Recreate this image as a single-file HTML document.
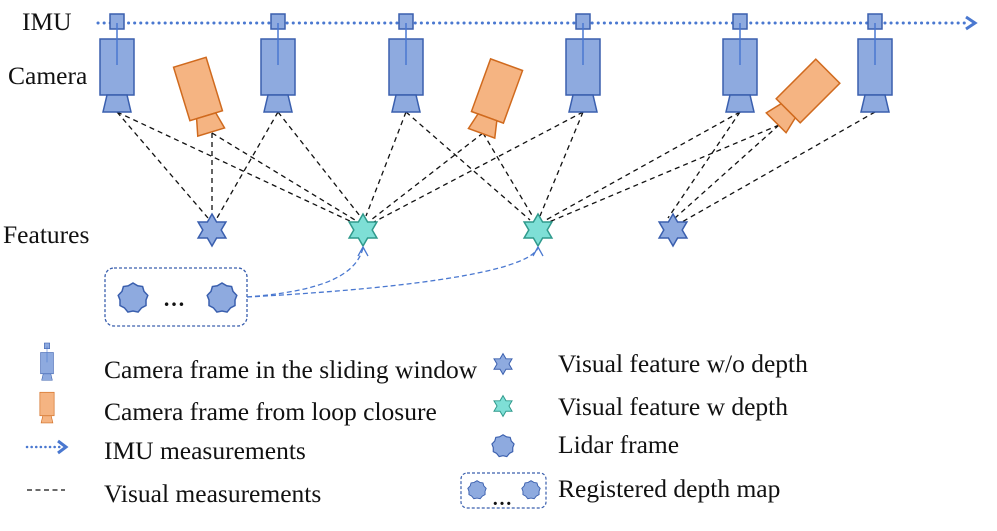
<!DOCTYPE html>
<html><head><meta charset="utf-8"><style>
html,body{margin:0;padding:0;background:#fff;}
svg{display:block;}
text{font-family:"Liberation Serif",serif;font-size:25.5px;fill:#111;}
</style></head><body>
<svg width="997" height="531" viewBox="0 0 997 531" xmlns="http://www.w3.org/2000/svg">
<defs>
  <g id="bcam">
    <rect x="-17" y="0" width="34" height="56" fill="#8eaadf" stroke="#3a5fae" stroke-width="1.5"/>
    <path d="M-10,56 L10,56 L14,73 L-14,73 Z" fill="#8eaadf" stroke="#3a5fae" stroke-width="1.5"/>
    <rect x="-7" y="-25" width="14" height="15" fill="#8eaadf" stroke="#3a5fae" stroke-width="1.5"/>
    <line x1="0" y1="-16" x2="0" y2="26" stroke="#4a78d0" stroke-width="1.5"/>
  </g>
  <g id="ocam">
    <rect x="-17" y="-28" width="34" height="56" fill="#f5b482" stroke="#d06a1e" stroke-width="1.5"/>
    <path d="M-10,28 L10,28 L14,45 L-14,45 Z" fill="#f5b482" stroke="#d06a1e" stroke-width="1.5"/>
  </g>
  <polygon id="bstar" points="0,-16 4.6,-8 13.9,-8 9.2,0 13.9,8 4.6,8 0,16 -4.6,8 -13.9,8 -9.2,0 -13.9,-8 -4.6,-8" fill="#8eaadf" stroke="#3a5fae" stroke-width="1.5"/>
  <polygon id="tstar" points="0,-16 4.6,-8 13.9,-8 9.2,0 13.9,8 4.6,8 0,16 -4.6,8 -13.9,8 -9.2,0 -13.9,-8 -4.6,-8" fill="#7edfd6" stroke="#2f9a8c" stroke-width="1.5"/>
  <polygon id="lidar" points="0,-15 4.7,-12.2 9.6,-11.5 11,-6.6 14.8,-2.6 13,2 13,7.5 8.6,9.8 5.1,14.1 0,13 -5.1,14.1 -8.6,9.8 -13,7.5 -13,2 -14.8,-2.6 -11,-6.6 -9.6,-11.5 -4.7,-12.2" fill="#8eaadf" stroke="#3a5fae" stroke-width="1.5"/>
</defs>

<text x="22" y="30">IMU</text>
<text x="8" y="84">Camera</text>
<text x="3" y="243">Features</text>

<line x1="98" y1="23" x2="970" y2="23" stroke="#4a78d0" stroke-width="3" stroke-dasharray="0.1 6" stroke-linecap="round"/>
<path d="M966,17 L975,23 L966,29" fill="none" stroke="#4a78d0" stroke-width="3"/>

<g stroke="#111" stroke-width="1.3" stroke-dasharray="5 4" fill="none">
  <line x1="117" y1="112" x2="208" y2="218"/>
  <line x1="212" y1="133" x2="212" y2="216"/>
  <line x1="278" y1="112" x2="217" y2="218"/>
  <line x1="117" y1="112" x2="352" y2="222"/>
  <line x1="212" y1="133" x2="355" y2="220"/>
  <line x1="278" y1="112" x2="360" y2="216"/>
  <line x1="406" y1="112" x2="366" y2="216"/>
  <line x1="483" y1="133" x2="371" y2="220"/>
  <line x1="583" y1="112" x2="374" y2="222"/>
  <line x1="406" y1="112" x2="530" y2="220"/>
  <line x1="483" y1="133" x2="533" y2="217"/>
  <line x1="583" y1="112" x2="540" y2="216"/>
  <line x1="740" y1="112" x2="546" y2="220"/>
  <line x1="779" y1="125" x2="549" y2="222"/>
  <line x1="740" y1="112" x2="668" y2="218"/>
  <line x1="779" y1="125" x2="675" y2="218"/>
  <line x1="875" y1="112" x2="682" y2="222"/>
</g>

<use href="#bcam" x="117" y="39"/>
<use href="#bcam" x="278" y="39"/>
<use href="#bcam" x="406" y="39"/>
<use href="#bcam" x="583" y="39"/>
<use href="#bcam" x="740" y="39"/>
<use href="#bcam" x="875" y="39"/>
<g transform="translate(198,89) rotate(-17)"><use href="#ocam"/></g>
<g transform="translate(497,91) rotate(20)"><use href="#ocam"/></g>
<g transform="translate(808,91) rotate(45)"><use href="#ocam"/></g>

<use href="#bstar" x="212" y="230"/>
<use href="#tstar" x="363" y="230"/>
<use href="#tstar" x="538" y="230"/>
<use href="#bstar" x="673" y="230"/>

<rect x="105" y="268" width="142" height="58" rx="9" fill="none" stroke="#3a5fae" stroke-width="1.3" stroke-dasharray="3 2"/>
<use href="#lidar" x="133" y="298"/>
<use href="#lidar" x="222" y="298"/>
<text x="163" y="306" style="font-weight:bold;font-size:22px">…</text>
<g stroke="#4a78d0" stroke-width="1.3" fill="none">
  <path d="M247,297 C310,292 355,280 363,248" stroke-dasharray="5 3"/>
  <path d="M247,297 C380,290 525,275 538,248" stroke-dasharray="5 3"/>
  <path d="M358,256 L363,247 L368,256"/>
  <path d="M533,256 L538,247 L543,256"/>
</g>

<g transform="translate(47,352.5) scale(0.38)"><use href="#bcam"/></g>
<g transform="translate(47,404) scale(0.42)"><use href="#ocam"/></g>
<line x1="27" y1="447" x2="60" y2="447" stroke="#4a78d0" stroke-width="2.5" stroke-dasharray="0.1 4.5" stroke-linecap="round"/>
<path d="M58,441 L66,447 L58,453" fill="none" stroke="#4a78d0" stroke-width="3"/>
<line x1="27" y1="490" x2="65" y2="490" stroke="#111" stroke-width="1.2" stroke-dasharray="5 3.5"/>
<text x="104" y="378">Camera frame in the sliding window</text>
<text x="104" y="420">Camera frame from loop closure</text>
<text x="104" y="459">IMU measurements</text>
<text x="104" y="502">Visual measurements</text>

<g transform="translate(503,364) scale(0.65)"><use href="#bstar"/></g>
<g transform="translate(503,406) scale(0.65)"><use href="#tstar"/></g>
<g transform="translate(503,446) scale(0.75)"><use href="#lidar"/></g>
<rect x="461" y="473" width="85" height="35" rx="6" fill="none" stroke="#3a5fae" stroke-width="1.2" stroke-dasharray="3 2"/>
<g transform="translate(477,490) scale(0.62)"><use href="#lidar"/></g>
<g transform="translate(531,490) scale(0.62)"><use href="#lidar"/></g>
<text x="492" y="505" style="font-weight:bold;font-size:20px">…</text>
<text x="558" y="372">Visual feature w/o depth</text>
<text x="558" y="415">Visual feature w depth</text>
<text x="558" y="453">Lidar frame</text>
<text x="558" y="497">Registered depth map</text>
</svg>
</body></html>
